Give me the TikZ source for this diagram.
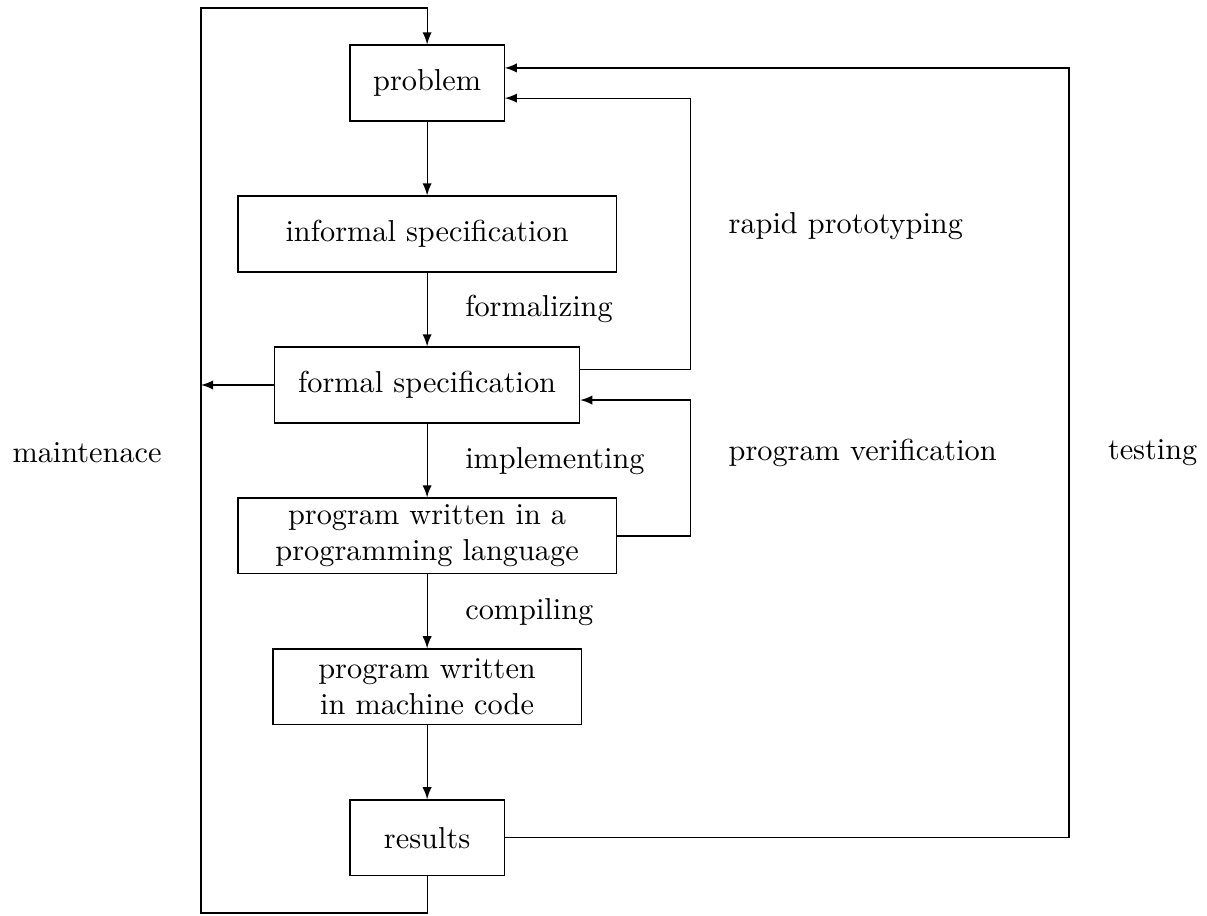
\documentclass[tikz,border=0pt]{standalone}
\usetikzlibrary{positioning}
\tikzset{%
    stage/.style={draw, align=center, minimum height=0.88cm, inner sep=1pt},
    flow/.style={-latex},
    remark/.style={anchor=west, inner sep=0pt},
}

\begin{document}
\begin{tikzpicture}[node distance = 0.857cm]
 \useasboundingbox (0,0) rectangle (14.0,-10.615);
 \node[stage, minimum width=1.787cm] (problem) at (4.954,-0.963) {problem};
 \node[stage, minimum width=4.385cm, below=of problem] (informal) {informal specification};
 \node[stage, minimum width=3.538cm, below=of informal] (formal) {formal specification};
 \node[stage, minimum width=4.385cm, below=of formal] (program) {program written in a\\programming language};
 \node[stage, minimum width=3.573cm, below=of program] (machine) {program written\\in machine code};
 \node[stage, minimum width=1.787cm, below=of machine] (results) {results};
 % corners of the loops
 \coordinate (left) at (2.332,0);
 \coordinate (top) at (0,-0.093);
 \coordinate (bottom) at (0,-10.59);
 \coordinate (inner) at (8.005,0);
 \coordinate (outer) at (12.40,0);
 \coordinate (problem-hi) at ([yshift=0.175cm]problem.east);
 \coordinate (problem-lo) at ([yshift=-0.175cm]problem.east);
 \coordinate (formal-hi) at ([yshift=0.175cm]formal.east);
 \coordinate (formal-lo) at ([yshift=-0.175cm]formal.east);
 % main flow
 \foreach \a/\b in {problem/informal,informal/formal,formal/program,program/machine,machine/results}
 {\draw[flow] (\a) -- (\b);}
 % maintenance
 \draw[flow] (results.south) -- (results.south |- bottom) -- (left |- bottom)
  -- (left |- top) -- (problem.north |- top) -- (problem.north);
 \draw[flow] (formal.west) -- (left |- formal.west);
 % rapid prototyping
 \draw[flow] (formal-hi) -- (inner |- formal-hi) -- (inner |- problem-lo) -- (problem-lo);
 % program verification
 \draw[flow] (program.east) -- (inner |- program.east) -- (inner |- formal-lo) -- (formal-lo);
 % testing
 \draw[flow] (results.east) -- (outer |- results.east) -- (outer |- problem-hi) -- (problem-hi);
 % labels
 \node[remark] (formalizing) at (5.39,-3.585) {formalizing};
 \node[remark] (implementing) at (5.39,-5.35) {implementing};
 \node[remark] (compiling) at (5.39,-7.10) {compiling};
 \node[remark] (rapid) at (8.445,-2.62) {rapid prototyping};
 \node[remark] (verification) at (8.445,-5.255) {program verification};
 \node (maintenance) at (1.01,-5.255) {maintenace};
 \node (testing) at (13.37,-5.255) {testing};
\end{tikzpicture}
\end{document}
